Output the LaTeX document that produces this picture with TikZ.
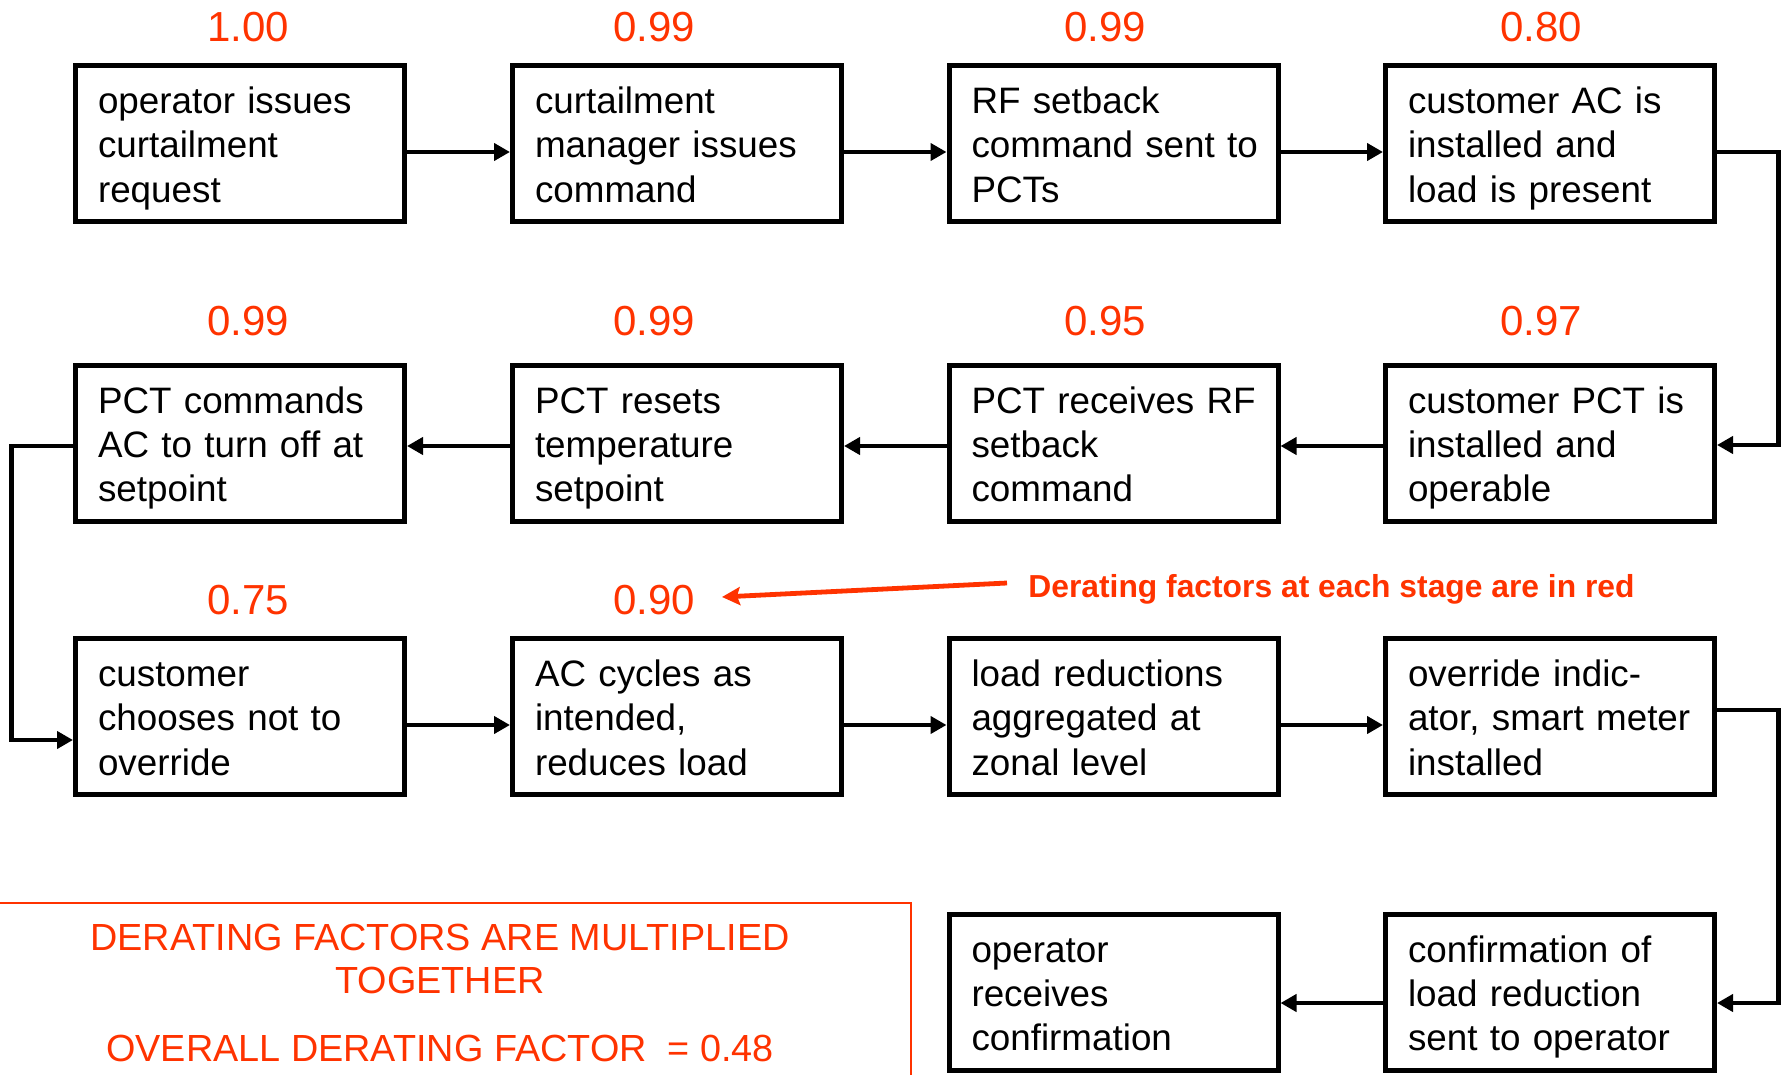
\documentclass[tikz,border=0pt]{standalone}
\usepackage{fontspec}
\setmainfont{Liberation Sans}
\usetikzlibrary{arrows.meta}
\definecolor{factorred}{RGB}{255,51,0}

% fixed vertical extents for the three-line stage texts
\newcommand{\stagetop}{\rule{0pt}{18.3pt}}
\newcommand{\stagebottom}{\rule[-3.9pt]{0pt}{3.9pt}}

\begin{document}
\begin{tikzpicture}[x=0.5pt,y=-0.5pt,
  stage/.style={draw=black, line width=2.5pt, fill=white,
    minimum width=164.5pt, minimum height=78pt,
    text width=142pt, inner xsep=11.25pt, inner ysep=0pt, align=left,
    font=\fontsize{18.4}{22.2}\selectfont,
    execute at begin node={\hyphenpenalty=10000\stagetop},
    execute at end node=\stagebottom},
  factor/.style={text=factorred, inner sep=0pt, font=\fontsize{21}{24}\selectfont},
  flow/.style={line width=2.25pt, -{Triangle[length=8pt,width=8.5pt]}},
  callout/.style={draw=factorred, line width=2.4pt, -{Stealth[length=9pt,width=9pt,inset=1.5pt]}},
  summary/.style={text=factorred, inner sep=0pt, anchor=base, font=\fontsize{18.9}{22}\selectfont},
]
\useasboundingbox (0,0) rectangle (1781,1075);

% stage boxes, row by row (lines kept whole with ~)
\node[stage] (s1)  at (240,143.5)  {operator~issues\\curtailment\\request};
\node[stage] (s2)  at (677,143.5)  {curtailment\\manager~issues\\command};
\node[stage] (s3)  at (1113.5,143.5) {RF~setback\\command~sent~to\\PCTs};
\node[stage] (s4)  at (1550,143.5) {customer~AC~is\\installed~and\\load~is~present};

\node[stage] (s5)  at (1550,443)   {customer~PCT~is\\installed~and\\operable};
\node[stage] (s6)  at (1113.5,443) {\mbox{PCT receives RF}\\setback\\command};
\node[stage] (s7)  at (677,443)    {PCT~resets\\temperature\\setpoint};
\node[stage] (s8)  at (240,443)    {PCT~commands\\AC~to~turn~off~at\\setpoint};

\node[stage] (s9)  at (240,716.5)  {customer\\chooses~not~to\\override};
\node[stage] (s10) at (677,716.5)  {AC~cycles~as\\intended,\\reduces~load};
\node[stage] (s11) at (1113.5,716.5) {load~reductions\\aggregated~at\\zonal~level};
\node[stage] (s12) at (1550,716.5) {override~indic-\\ator,~smart~meter\\installed};

\node[stage] (s13) at (1550,992)   {confirmation~of\\load~reduction\\sent~to~operator};
\node[stage] (s14) at (1113.5,992) {operator\\receives\\confirmation};

% derating factors
\node[factor] (f1)  at (248,27)   {1.00};
\node[factor] (f2)  at (654,27)   {0.99};
\node[factor] (f3)  at (1105,27)  {0.99};
\node[factor] (f4)  at (1541,27)  {0.80};
\node[factor] (f5)  at (1541,321) {0.97};
\node[factor] (f6)  at (1105,321) {0.95};
\node[factor] (f7)  at (654,321)  {0.99};
\node[factor] (f8)  at (248,321)  {0.99};
\node[factor] (f9)  at (248,600)  {0.75};
\node[factor] (f10) at (654,600)  {0.90};

% flow connectors
\draw[flow] ([yshift=-4.25pt]s1.east) -- ([yshift=-4.25pt]s2.west);
\draw[flow] ([yshift=-4.25pt]s2.east) -- ([yshift=-4.25pt]s3.west);
\draw[flow] ([yshift=-4.25pt]s3.east) -- ([yshift=-4.25pt]s4.west);
\draw[flow] ([yshift=-4.25pt]s4.east) -- ++(61.5,0) |- ([yshift=-1pt]s5.east);

\draw[flow] ([yshift=-1.5pt]s5.west) -- ([yshift=-1.5pt]s6.east);
\draw[flow] ([yshift=-1.5pt]s6.west) -- ([yshift=-1.5pt]s7.east);
\draw[flow] ([yshift=-1.5pt]s7.west) -- ([yshift=-1.5pt]s8.east);
\draw[flow] ([yshift=-1.5pt]s8.west) -- ++(-61.5,0) |- ([yshift=-11.75pt]s9.west);

\draw[flow] ([yshift=-4.25pt]s9.east)  -- ([yshift=-4.25pt]s10.west);
\draw[flow] ([yshift=-4.25pt]s10.east) -- ([yshift=-4.25pt]s11.west);
\draw[flow] ([yshift=-4.25pt]s11.east) -- ([yshift=-4.25pt]s12.west);
\draw[flow] ([yshift=3.25pt]s12.east) -- ++(61.5,0) |- ([yshift=-5.5pt]s13.east);

\draw[flow] ([yshift=-5.5pt]s13.west) -- ([yshift=-5.5pt]s14.east);

% legend note with its pointer
\node[text=factorred, inner sep=0pt, anchor=base west,
      font=\fontsize{15.9}{18}\selectfont\bfseries] (note) at (1028,597)
      {Derating factors at each stage are in red};
\coordinate (notetail) at (1007,583);
\coordinate (notetip) at (722,597);
\draw[callout] (notetail) -- (notetip);

% summary panel
\draw[draw=factorred, line width=1pt] (-10,903) rectangle (911,1095);
\node[summary] (sum1) at (440,950)  {DERATING FACTORS ARE MULTIPLIED};
\node[summary] (sum2) at (440,993)  {TOGETHER};
\node[summary] (sum3) at (440,1061) {OVERALL DERATING FACTOR~~= 0.48};
\end{tikzpicture}
\end{document}
